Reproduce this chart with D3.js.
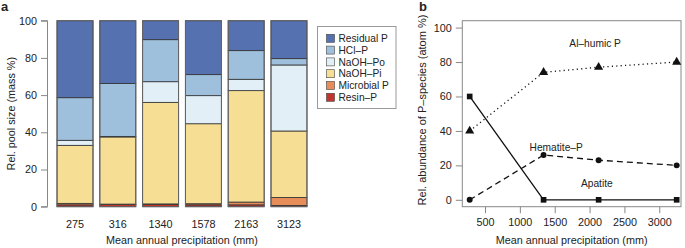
<!DOCTYPE html>
<html>
<head>
<meta charset="utf-8">
<script src="https://cdn.jsdelivr.net/npm/d3@7"></script>
<style>
body { margin: 0; background: #fff; }
svg text { font-family: "Liberation Sans", Arial, sans-serif; fill: #222; }
</style>
</head>
<body>
<svg id="chart" width="685" height="248"></svg>
<script>
// panel a data (mass %)
let precip = ["275", "316", "1340", "1578", "2163", "3123"];
let resin = [1, 1.2, 1.2, 1, 1, 0.7];
let microbial = [0.8, 0.2, 0.3, 0.6, 1.5, 4.3];
let naohPi = [31.2, 36.1, 54.6, 43, 59.9, 35.7];
let naohPo = [2.7, 0.3, 11.1, 15.1, 6.1, 35.5];
let hcl = [22.9, 28.5, 22.6, 11.3, 15.4, 3.4];
let residual = [41.4, 33.7, 10.2, 29, 16.1, 20.4];
let poolNames = ["Resin\u2013P", "Microbial P", "NaOH\u2013Pi", "NaOH\u2013Po", "HCl\u2013P", "Residual P"];
let poolColors = ["#c2352c", "#e68d5a", "#f6df95", "#e3eff6", "#9fc0dc", "#5571b0"];

// panel b data (atom %)
let mapB = [280, 1340, 2130, 3250];
let alHumic = [40, 74, 77, 80];
let hematite = [0, 26, 23, 20];
let apatite = [60, 0, 0, 0];
let yTicks = [0, 20, 40, 60, 80, 100];
let xTicksB = [500, 1000, 1500, 2000, 2500, 3000];

let svg = d3.select("#chart");

// ---------- panel a ----------
let ga = svg.append("g");
let rows = precip.map((p, i) => {
    let r = {p: p};
    let vals = [resin, microbial, naohPi, naohPo, hcl, residual];
    poolNames.forEach((n, k) => { r[n] = vals[k][i] });
    return r;
});
let stacked = d3.stack().keys(poolNames)(rows);

let xa = d3.scaleBand().domain(precip).range([53.6, 310.4]).paddingInner(0.159).paddingOuter(0.08);
let ya = d3.scaleLinear().domain([0, 100]).range([206.7, 20.7]);

stacked.forEach((layer, k) => {
    ga.selectAll(null)
        .data(layer)
        .enter().append("rect")
        .attr("x", d => xa(d.data.p))
        .attr("width", xa.bandwidth())
        .attr("y", d => ya(d[1]))
        .attr("height", d => ya(d[0]) - ya(d[1]))
        .attr("fill", poolColors[k])
        .attr("stroke", "#333")
        .attr("stroke-width", 0.8);
});
// outer outline of each bar
ga.selectAll(null).data(precip).enter().append("rect")
    .attr("x", d => xa(d))
    .attr("width", xa.bandwidth())
    .attr("y", ya(100))
    .attr("height", ya(0) - ya(100))
    .attr("fill", "none")
    .attr("stroke", "#666")
    .attr("stroke-width", 1);

let yAxisA = ga.append("g")
    .attr("transform", "translate(47.5,0)")
    .call(d3.axisLeft(ya).tickValues(yTicks).tickSize(6.5).tickPadding(4));
yAxisA.select(".domain").attr("stroke", "#888").attr("d", `M-6.5,${ya(0)}H0V${ya(100)}H-6.5`);
yAxisA.selectAll(".tick line").attr("stroke", "#888");
yAxisA.selectAll("text").style("font-size", "10.8px").attr("fill", "#222");

ga.selectAll(null).data(precip).enter().append("text")
    .attr("x", d => xa(d) + xa.bandwidth() / 2)
    .attr("y", 228)
    .attr("text-anchor", "middle")
    .style("font-size", "10.8px")
    .text(d => d);

ga.append("text").attr("x", 182).attr("y", 244).attr("text-anchor", "middle")
    .style("font-size", "10.8px").text("Mean annual precipitation (mm)");
ga.append("text").attr("transform", "translate(15,113.7) rotate(-90)").attr("text-anchor", "middle")
    .style("font-size", "10.8px").text("Rel. pool size (mass %)");
ga.append("text").attr("x", 1).attr("y", 11).style("font-size", "13px").style("font-weight", "bold").text("a");

// legend
let leg = ga.append("g").attr("transform", "translate(317.5,26.5)");
leg.append("rect").attr("width", 78.5).attr("height", 82).attr("fill", "#fff").attr("stroke", "#999");
let legItems = poolNames.slice().reverse();
let legColors = poolColors.slice().reverse();
legItems.forEach((n, i) => {
    leg.append("rect").attr("x", 9).attr("y", 7.8 + i * 11.8).attr("width", 8).attr("height", 8)
        .attr("fill", legColors[i]).attr("stroke", "#444").attr("stroke-width", 0.6);
    leg.append("text").attr("x", 21).attr("y", 15.5 + i * 11.8).style("font-size", "10.2px").text(n);
});

// ---------- panel b ----------
let gb = svg.append("g");
let xb = d3.scaleLinear().domain([174, 3312]).range([462.3, 681]);
let yb = d3.scaleLinear().domain([-4, 104]).range([206.7, 20.7]);

gb.append("rect").attr("x", xb(174)).attr("y", yb(104)).attr("width", xb(3312) - xb(174))
    .attr("height", yb(-4) - yb(104)).attr("fill", "none").attr("stroke", "#888");

let yAxisB = gb.append("g").attr("transform", `translate(${xb(174)},0)`)
    .call(d3.axisLeft(yb).tickValues(yTicks).tickSize(6.5).tickPadding(4));
yAxisB.select(".domain").remove();
yAxisB.selectAll(".tick line").attr("stroke", "#888");
yAxisB.selectAll("text").style("font-size", "10.8px").attr("fill", "#222");

let xAxisB = gb.append("g").attr("transform", `translate(0,${yb(-4)})`)
    .call(d3.axisBottom(xb).tickValues(xTicksB).tickSize(6.5).tickPadding(5).tickFormat(d3.format("d")));
xAxisB.select(".domain").remove();
xAxisB.selectAll(".tick line").attr("stroke", "#888");
xAxisB.selectAll("text").style("font-size", "10.8px").attr("fill", "#222");

let line = d3.line().x(d => xb(d[0])).y(d => yb(d[1]));
let series = [
    {vals: alHumic, dash: "1.2,3.2", shape: d3.symbolTriangle, size: 36},
    {vals: hematite, dash: "6,4", shape: d3.symbolCircle, size: 28},
    {vals: apatite, dash: null, shape: d3.symbolSquare, size: 32}
];
series.forEach(s => {
    let pts = mapB.map((x, i) => [x, s.vals[i]]);
    gb.append("path").attr("d", line(pts)).attr("fill", "none").attr("stroke", "#111")
        .attr("stroke-width", 1.3).attr("stroke-dasharray", s.dash);
    gb.selectAll(null).data(pts).enter().append("path")
        .attr("transform", d => `translate(${xb(d[0])},${yb(d[1])})`)
        .attr("d", d3.symbol().type(s.shape).size(s.size))
        .attr("fill", "#111");
});

gb.append("text").attr("x", xb(2080)).attr("y", yb(88.5)).attr("text-anchor", "middle")
    .style("font-size", "10.2px").text("Al\u2013humic P");
gb.append("text").attr("x", xb(1521)).attr("y", yb(28.5)).attr("text-anchor", "middle")
    .style("font-size", "10.2px").text("Hematite\u2013P");
gb.append("text").attr("x", xb(2104)).attr("y", yb(7.6)).attr("text-anchor", "middle")
    .style("font-size", "10.2px").text("Apatite");

gb.append("text").attr("x", 571.6).attr("y", 244).attr("text-anchor", "middle")
    .style("font-size", "10.8px").text("Mean annual precipitation (mm)");
gb.append("text").attr("transform", "translate(426,110) rotate(-90)").attr("text-anchor", "middle")
    .style("font-size", "11px").text("Rel. abundance of P\u2013species (atom %)");
gb.append("text").attr("x", 419).attr("y", 11).style("font-size", "13px").style("font-weight", "bold").text("b");
</script>
</body>
</html>
